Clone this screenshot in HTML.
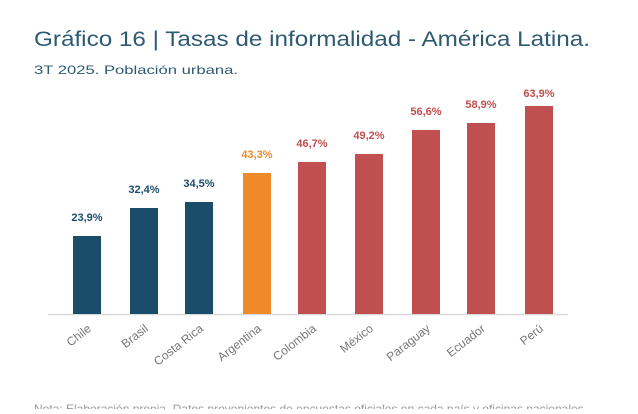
<!DOCTYPE html>
<html><head><meta charset="utf-8"><style>
body{margin:0;background:#fff;width:638px;height:409px;overflow:hidden;font-family:"Liberation Sans",sans-serif;}
</style></head><body>
<svg width="638" height="409" xmlns="http://www.w3.org/2000/svg" font-family="Liberation Sans, sans-serif">
<text x="34" y="46" font-size="21" fill="#2e5a72" textLength="556" lengthAdjust="spacingAndGlyphs">Gráfico 16 | Tasas de informalidad - América Latina.</text>
<text x="34" y="74" font-size="12" fill="#2e5a72" textLength="204" lengthAdjust="spacingAndGlyphs">3T 2025. Población urbana.</text>
<line x1="48" y1="314.5" x2="568" y2="314.5" stroke="#d9d9d9" stroke-width="1.5"/>
<g font-size="11" font-weight="bold" text-anchor="middle">
<rect x="73" y="236" width="28" height="78" fill="#1b4d6b"/><text x="87" y="221" fill="#1b4d6b">23,9%</text>
<rect x="130" y="208" width="28" height="106" fill="#1b4d6b"/><text x="144" y="193" fill="#1b4d6b">32,4%</text>
<rect x="185" y="202" width="28" height="112" fill="#1b4d6b"/><text x="199" y="187" fill="#1b4d6b">34,5%</text>
<rect x="243" y="173" width="28" height="141" fill="#ef8a2a"/><text x="257" y="158" fill="#ef8a2a">43,3%</text>
<rect x="298" y="162" width="28" height="152" fill="#c04f4f"/><text x="312" y="147" fill="#c04f4f">46,7%</text>
<rect x="355" y="154" width="28" height="160" fill="#c04f4f"/><text x="369" y="139" fill="#c04f4f">49,2%</text>
<rect x="412" y="130" width="28" height="184" fill="#c04f4f"/><text x="426" y="115" fill="#c04f4f">56,6%</text>
<rect x="467" y="123" width="28" height="191" fill="#c04f4f"/><text x="481" y="108" fill="#c04f4f">58,9%</text>
<rect x="525" y="106" width="28" height="208" fill="#c04f4f"/><text x="539" y="97" fill="#c04f4f">63,9%</text>
</g>
<g font-size="12" fill="#777" text-anchor="end">
<text transform="translate(92,330) rotate(-38)">Chile</text>
<text transform="translate(149,330) rotate(-38)">Brasil</text>
<text transform="translate(204,330) rotate(-38)">Costa Rica</text>
<text transform="translate(262,330) rotate(-38)">Argentina</text>
<text transform="translate(317,330) rotate(-38)">Colombia</text>
<text transform="translate(374,330) rotate(-38)">México</text>
<text transform="translate(431,330) rotate(-38)">Paraguay</text>
<text transform="translate(486,330) rotate(-38)">Ecuador</text>
<text transform="translate(544,330) rotate(-38)">Perú</text>
</g>
<text x="34" y="413" font-size="12" fill="#999">Nota: Elaboración propia. Datos provenientes de encuestas oficiales en cada país y oficinas nacionales.</text>
</svg>
</body></html>
